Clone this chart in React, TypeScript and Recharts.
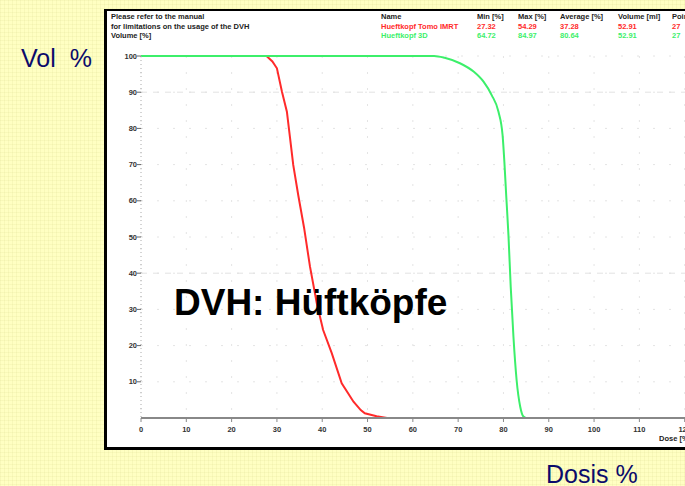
import React from "react";
import { LineChart, Line, XAxis, YAxis, CartesianGrid, ReferenceLine } from "recharts";

const xTicks = [0, 10, 20, 30, 40, 50, 60, 70, 80, 90, 100, 110, 120, 130];
const yTicks = [10, 20, 30, 40, 50, 60, 70, 80, 90, 100];

const redDose = [0, 27.7, 29, 30, 31.1, 32.2, 32.9, 33.6, 34.7, 36.0, 37.3, 38.8, 40.2, 42.1, 44.3, 46.9, 48.5, 49.4, 52.0, 54.3, 130];
const redVol = [100, 100, 98.5, 96.6, 90.2, 84.6, 77.3, 69.9, 61.6, 52.5, 41.8, 31.7, 24.3, 17.9, 9.6, 4.5, 2.2, 1.3, 0.5, 0, 0];

const greenDose = [0, 64.7, 67, 70.4, 73.4, 75.6, 77.4, 78.9, 79.8, 80.2, 80.6, 81.1, 81.6, 82.2, 82.9, 83.7, 84.4, 85.0, 130];
const greenVol = [100, 100, 99.5, 98.0, 95.7, 92.9, 89.2, 84.6, 78.2, 70.8, 61.6, 50.6, 36.3, 22.5, 10.5, 3.1, 0.4, 0, 0];

const tableHeaders = ["Name", "Min [%]", "Max [%]", "Average [%]", "Volume [ml]", "Points"];
const rowTomo = ["Hueftkopf Tomo IMRT", "27.32", "54.29", "37.28", "52.91", "27"];
const row3D = ["Hueftkopf 3D", "64.72", "84.97", "80.64", "52.91", "27"];
const noteLines = ["Please refer to the manual", "for limitations on the usage of the DVH", "Volume [%]"];

const RED = "#ff2a2a";
const GREEN = "#3cef6a";

const redData = redDose.map((d, i) => ({ dose: d, vol: redVol[i] }));
const greenData = greenDose.map((d, i) => ({ dose: d, vol: greenVol[i] }));

const colX = [381, 477, 518, 560, 618, 672];
const small: React.CSSProperties = {
  position: "absolute",
  fontFamily: "'Liberation Sans', Arial, sans-serif",
  fontWeight: "bold",
  fontSize: 7.5,
  lineHeight: "9px",
  whiteSpace: "nowrap",
};

export default function App() {
  return (
    <div
      style={{
        position: "fixed",
        left: 0,
        top: 0,
        width: 685,
        height: 486,
        overflow: "hidden",
        background: "#ffffc2",
        backgroundImage:
          "linear-gradient(rgba(200,200,120,0.12) 1px, transparent 1px), linear-gradient(90deg, rgba(200,200,120,0.12) 1px, transparent 1px)",
        backgroundSize: "4px 4px",
        fontFamily: "'Liberation Sans', Arial, sans-serif",
      }}
    >
      <div
        style={{
          position: "absolute",
          left: 104,
          top: 9,
          width: 640,
          height: 436,
          background: "#fff",
          borderLeft: "3px solid #000",
          borderTop: "2px solid #000",
          borderBottom: "3px solid #000",
        }}
      />
      {noteLines.map((t, i) => (
        <div key={t} style={{ ...small, left: 111, top: 12 + i * 9.5, color: "#222" }}>
          {t}
        </div>
      ))}
      {tableHeaders.map((t, i) => (
        <div key={t} style={{ ...small, left: colX[i], top: 12, color: "#222" }}>
          {t}
        </div>
      ))}
      {rowTomo.map((t, i) => (
        <div key={"r" + i} style={{ ...small, left: colX[i], top: 21.5, color: RED }}>
          {t}
        </div>
      ))}
      {row3D.map((t, i) => (
        <div key={"g" + i} style={{ ...small, left: colX[i], top: 31, color: GREEN }}>
          {t}
        </div>
      ))}
      <div style={{ position: "absolute", left: 0, top: 0 }}>
        <LineChart width={760} height={486} margin={{ top: 56, right: 30, left: 101, bottom: 38 }}>
          <CartesianGrid stroke="#e4e4e4" strokeDasharray="2 14" />
          <ReferenceLine y={90} stroke="#e2e2e2" strokeDasharray="6 6" />
          <ReferenceLine y={40} stroke="#e2e2e2" strokeDasharray="6 6" />
          <XAxis
            type="number"
            dataKey="dose"
            domain={[0, 130]}
            ticks={xTicks}
            allowDuplicatedCategory={false}
            height={30}
            tickSize={4}
            tickMargin={5}
            axisLine={{ stroke: "#888", strokeWidth: 2 }}
            tickLine={{ stroke: "#888" }}
            tick={{ fontSize: 7.5, fontWeight: "bold", fill: "#333", fontFamily: "'Liberation Sans', Arial" }}
            interval={0}
          />
          <YAxis
            type="number"
            dataKey="vol"
            domain={[0, 100]}
            ticks={yTicks}
            width={40}
            tickSize={4}
            tickMargin={0}
            axisLine={{ stroke: "#aaa", strokeDasharray: "1 3" }}
            tickLine={{ stroke: "#666" }}
            tick={{ fontSize: 7.5, fontWeight: "bold", fill: "#333", fontFamily: "'Liberation Sans', Arial" }}
            interval={0}
          />
          <Line
            data={redData}
            dataKey="vol"
            type="linear"
            stroke={RED}
            strokeWidth={2}
            dot={false}
            isAnimationActive={false}
          />
          <Line
            data={greenData}
            dataKey="vol"
            type="monotone"
            stroke={GREEN}
            strokeWidth={2}
            dot={false}
            isAnimationActive={false}
          />
        </LineChart>
      </div>
      <div style={{ ...small, left: 659, top: 434, color: "#222" }}>Dose [%]</div>
      <div
        style={{
          position: "absolute",
          left: 174,
          top: 282,
          fontSize: 37,
          fontWeight: "bold",
          color: "#000",
          whiteSpace: "nowrap",
          lineHeight: "41px",
        }}
      >
        DVH: Hüftköpfe
      </div>
      <div
        style={{
          position: "absolute",
          left: 21,
          top: 43,
          fontSize: 25,
          color: "#0b0b6b",
          whiteSpace: "pre",
          lineHeight: "30px",
        }}
      >
        {"Vol  %"}
      </div>
      <div
        style={{
          position: "absolute",
          left: 546,
          top: 459,
          fontSize: 25,
          color: "#0b0b6b",
          whiteSpace: "pre",
          lineHeight: "30px",
        }}
      >
        {"Dosis %"}
      </div>
    </div>
  );
}
